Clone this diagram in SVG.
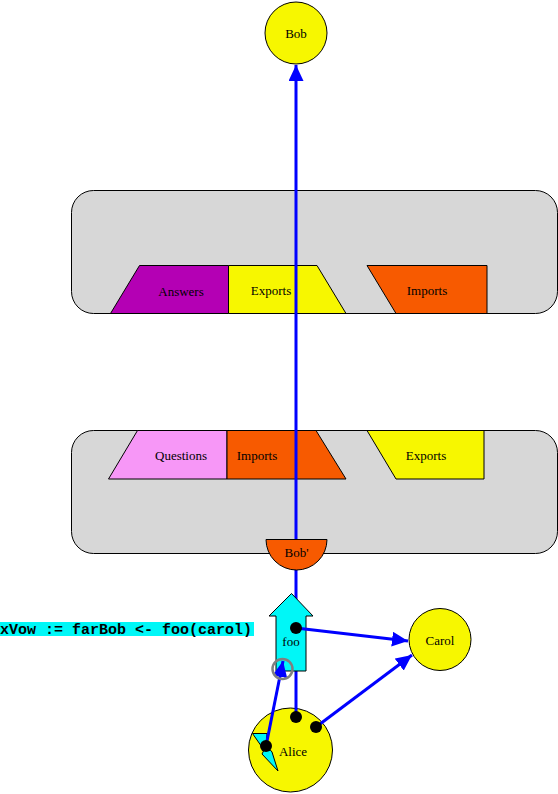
<svg xmlns="http://www.w3.org/2000/svg" width="558" height="794" viewBox="0 0 558 794">
<style>
.lbl{font-family:"Liberation Serif","Times New Roman",serif;font-size:13px;fill:#000;text-anchor:middle;dominant-baseline:central}
.sh{stroke:#000;stroke-width:1}
.edge{stroke:#0000ff;stroke-width:3;fill:none}
.dot{fill:#000}
</style>
<defs>
<marker id="ah" markerUnits="userSpaceOnUse" markerWidth="16" markerHeight="15" refX="16" refY="7.5" orient="auto">
<path d="M0,0 L16,7.5 L0,15 z" fill="#0000ff"/>
</marker>
</defs>
<rect width="558" height="794" fill="#fff"/>
<g id="vat-top">
<rect class="sh" x="71.5" y="190.5" width="486" height="123" rx="22" fill="#d7d7d7"/>
<polygon class="sh" points="110.5,313.5 139.5,265.5 228.5,265.5 228.5,313.5" fill="#b400b4"/>
<text class="lbl" x="181" y="291">Answers</text>
<polygon class="sh" points="228.5,265.5 317,265.5 346,313.5 228.5,313.5" fill="#f7f700"/>
<text class="lbl" x="271" y="290">Exports</text>
<polygon class="sh" points="367,265.5 487,265.5 487,313.5 396,313.5" fill="#f75a00"/>
<text class="lbl" x="427" y="290">Imports</text>
</g>
<g id="vat-bottom">
<rect class="sh" x="71.5" y="430.5" width="486" height="123" rx="22" fill="#d7d7d7"/>
<polygon class="sh" points="108.5,479 137.5,430.5 227,430.5 227,479" fill="#f797f7"/>
<text class="lbl" x="181" y="455">Questions</text>
<polygon class="sh" points="227,430.5 316,430.5 346,479 227,479" fill="#f75a00"/>
<text class="lbl" x="257" y="455">Imports</text>
<polygon class="sh" points="367,430.5 484,430.5 484,479 396,479" fill="#f7f700"/>
<text class="lbl" x="426" y="455">Exports</text>
</g>
<g id="bob">
<circle class="sh" cx="296" cy="33" r="31" fill="#f7f700"/>
<text class="lbl" x="296" y="33">Bob</text>
</g>
<g id="carol">
<circle class="sh" cx="440" cy="639.5" r="31" fill="#f7f700"/>
<text class="lbl" x="440" y="640">Carol</text>
</g>
<g id="alice">
<circle class="sh" cx="290.5" cy="750" r="42" fill="#f7f700"/>
<polygon class="sh" points="252.5,733.5 267,733.5 266,745 272,752 278,771 262,754 264,750" fill="#00f7f7"/>
<text class="lbl" x="293" y="751">Alice</text>
</g>
<g id="edges-back">
<line class="edge" x1="296" y1="717" x2="296" y2="65" marker-end="url(#ah)"/>
</g>
<g id="bob-prime">
<path class="sh" d="M266,539.5 L327,539.5 A30.5,30.5 0 0 1 266,539.5 Z" fill="#f75a00"/>
<text class="lbl" x="296.5" y="552">Bob'</text>
</g>
<g id="foo">
<polygon class="sh" points="291.5,593.5 313,616 306,616 306,671 276,671 276,616 269,616" fill="#00f7f7"/>
<text class="lbl" x="291" y="641">foo</text>
</g>
<g id="edges">
<line class="edge" x1="296" y1="628" x2="408" y2="641" marker-end="url(#ah)"/>
<line class="edge" x1="316" y1="727" x2="412" y2="655" marker-end="url(#ah)"/>
<line class="edge" x1="266" y1="746" x2="283" y2="661" marker-end="url(#ah)"/>
<circle cx="282.5" cy="669" r="10" fill="none" stroke="#808080" stroke-width="2.5"/>
<circle class="dot" cx="296" cy="628" r="6"/>
<circle class="dot" cx="296" cy="717" r="6"/>
<circle class="dot" cx="316" cy="727" r="6"/>
<circle class="dot" cx="266" cy="746" r="6"/>
</g>
<g id="expr">
<rect x="0" y="622" width="254" height="14" fill="#00f7f7"/>
<text x="0" y="634" font-family="'Liberation Mono','Courier New',monospace" font-size="15" font-weight="bold" fill="#000">xVow := farBob &lt;- foo(carol)</text>
</g>
</svg>
